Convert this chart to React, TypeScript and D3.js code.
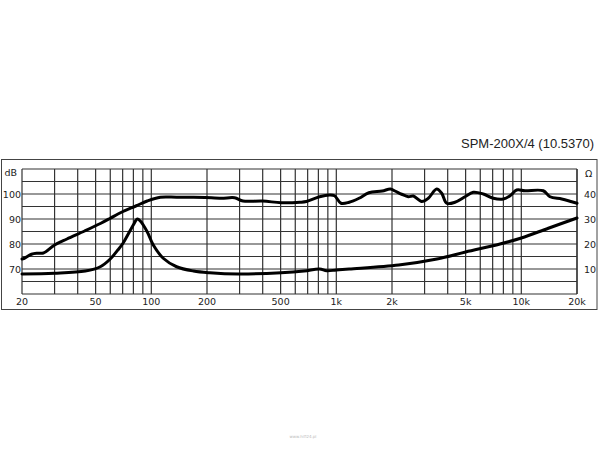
import React from "react";
import * as d3 from "d3";

const TITLE = "SPM-200X/4 (10.5370)";

const splFreq = [20, 20.5, 22.5, 24.4, 26.1, 30, 35, 43.6, 53.4, 60, 66, 70.3, 83, 95, 112, 137, 169, 195, 239, 282, 313, 400, 503, 636, 689, 812, 920, 979, 1060, 1174, 1327, 1500, 1771, 1962, 2076, 2256, 2450, 2608, 2894, 3142, 3488, 3712, 3952, 4380, 4961, 5500, 6232, 7055, 7993, 8686, 9441, 10470, 13146, 14290, 16535, 18726, 20000];
const splDb = [74, 74.2, 75.9, 76.3, 76.4, 79.6, 82, 85.2, 88.3, 90.3, 92, 93, 95.3, 97.2, 98.7, 98.7, 98.7, 98.6, 98.3, 98.5, 97.2, 97.2, 96.5, 96.7, 97, 98.9, 99.6, 99.3, 96.3, 96.7, 98.3, 100.5, 101.2, 102, 101.2, 99.9, 98.9, 99.2, 97, 98.3, 102, 100.3, 96.3, 96.7, 98.9, 100.7, 100, 98.3, 98, 99.3, 101.6, 101.3, 101.3, 98.9, 98, 96.9, 96.3];

const impFreq = [20, 30, 44, 53, 59.8, 65.9, 70.3, 79.9, 84, 87.2, 95, 102.5, 116, 137, 169, 207, 295, 503, 670, 812, 887, 1000, 1174, 2174, 3500, 5000, 7670, 10000, 14000, 20000];
const impOhm = [8, 8.3, 9.2, 10.9, 13.9, 17.6, 20.3, 27.6, 30, 29.2, 24.9, 19.6, 14.3, 10.9, 9.2, 8.5, 8.0, 8.5, 9.2, 10, 9.3, 9.6, 10, 11.6, 14, 16.8, 20, 22.4, 26.3, 30.4];

const xTickVals = [20, 50, 100, 200, 500, 1000, 2000, 5000, 10000, 20000];
const xTickLabels = ["20", "50", "100", "200", "500", "1k", "2k", "5k", "10k", "20k"];
const dbTicks = [70, 80, 90, 100];
const ohmTicks = [10, 20, 30, 40];

export default function App() {
  const L = 22, R = 577, T = 169, B = 294;
  const x = d3.scaleLog().domain([20, 20000]).range([L, R]);
  const yDb = d3.scaleLinear().domain([60, 110]).range([B, T]);
  const yOhm = d3.scaleLinear().domain([0, 50]).range([B, T]);

  const gridX: number[] = [];
  for (let dec = 10; dec <= 10000; dec *= 10) {
    for (let m = 1; m <= 9; m++) {
      const v = dec * m;
      if (v >= 20 && v <= 20000) gridX.push(v);
    }
  }
  gridX.push(20000);
  const gridY = d3.range(60, 111, 5);

  const splLine = d3
    .line<number>()
    .x((_, i) => x(splFreq[i]))
    .y((d) => yDb(d))
    .curve(d3.curveCatmullRom.alpha(0.5));
  const impLine = d3
    .line<number>()
    .x((_, i) => x(impFreq[i]))
    .y((d) => yOhm(d))
    .curve(d3.curveCatmullRom.alpha(0.5));

  const font = "'DejaVu Sans', Verdana, sans-serif";

  return (
    <svg
      width={600}
      height={450}
      style={{ position: "absolute", left: 0, top: 0, background: "#fff" }}
    >
      <rect x={0} y={0} width={600} height={450} fill="#fff" />
      <text
        x={594}
        y={148}
        textAnchor="end"
        fontFamily="'Liberation Sans', Arial, sans-serif"
        fontSize={13}
        fill="#222"
      >
        {TITLE}
      </text>
      <rect x={1.5} y={159.5} width={595.5} height={150} fill="none" stroke="#444" strokeWidth={1} />
      <g stroke="#333" strokeWidth={1.2}>
        {gridX.map((v, i) => (
          <line key={"gx" + i} x1={x(v)} x2={x(v)} y1={T} y2={B} />
        ))}
        {gridY.map((v, i) => (
          <line key={"gy" + i} x1={L} x2={R} y1={yDb(v)} y2={yDb(v)} />
        ))}
      </g>
      <path d={splLine(splDb) || ""} fill="none" stroke="#000" strokeWidth={3} strokeLinejoin="round" strokeLinecap="round" />
      <path d={impLine(impOhm) || ""} fill="none" stroke="#000" strokeWidth={3} strokeLinejoin="round" strokeLinecap="round" />
      <g fontFamily={font} fontSize={9.5} fill="#222">
        <text x={17} y={172.5} textAnchor="end" dominantBaseline="central">dB</text>
        {dbTicks.map((v) => (
          <text key={"db" + v} x={21} y={yDb(v)} textAnchor="end" dominantBaseline="central">{v}</text>
        ))}
        <text x={585} y={173} dominantBaseline="central">Ω</text>
        {ohmTicks.map((v) => (
          <text key={"oh" + v} x={584} y={yOhm(v)} dominantBaseline="central">{v}</text>
        ))}
        {xTickVals.map((v, i) => (
          <text key={"xt" + i} x={x(v)} y={305} textAnchor="middle">{xTickLabels[i]}</text>
        ))}
      </g>
      <text x={303} y={438} textAnchor="middle" fontFamily={font} fontSize={4} fill="#bbb">www.hifi24.pl</text>
    </svg>
  );
}
